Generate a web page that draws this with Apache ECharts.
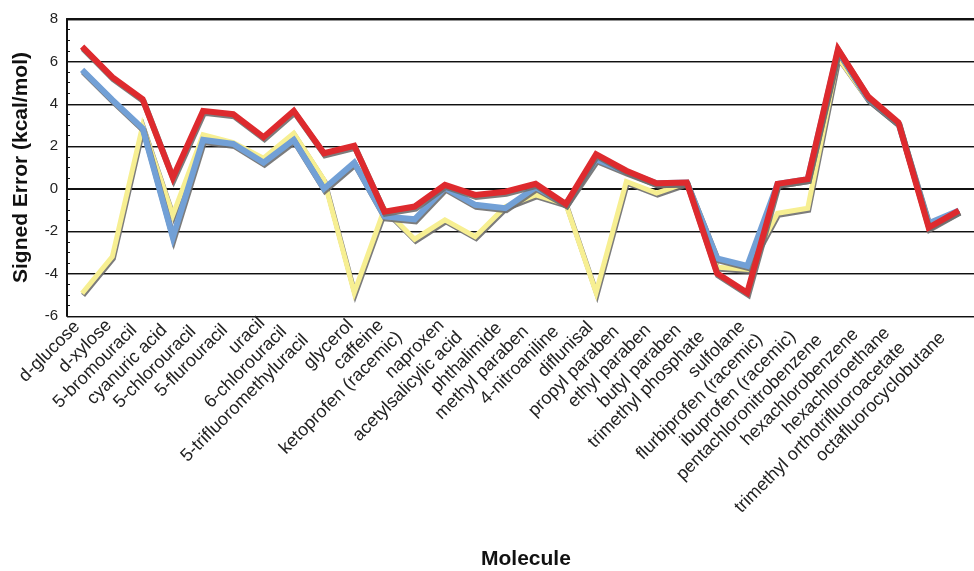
<!DOCTYPE html>
<html><head><meta charset="utf-8">
<script src="https://cdn.jsdelivr.net/npm/echarts@6/dist/echarts.min.js"></script>
<style>html,body{margin:0;padding:0;background:#fff}#c{width:974px;height:571px}</style>
</head><body><div id="c"></div>
<script>
const categories = ["d-glucose","d-xylose","5-bromouracil","cyanuric acid","5-chlorouracil","5-flurouracil","uracil","6-chlorouracil","5-trifluoromethyluracil","glycerol","caffeine","ketoprofen (racemic)","naproxen","acetylsalicylic acid","phthalimide","methyl paraben","4-nitroaniline","diflunisal","propyl paraben","ethyl paraben","butyl paraben","trimethyl phosphate","sulfolane","flurbiprofen (racemic)","ibuprofen (racemic)","pentachloronitrobenzene","hexachlorobenzene","hexachloroethane","trimethyl orthotrifluoroacetate","octafluorocyclobutane"];
const yellowValues = [-4.93,-3.2,2.96,-1.24,2.54,2.17,1.44,2.62,0.42,-4.9,-0.95,-2.38,-1.47,-2.26,-0.85,-0.29,-0.72,-4.9,0.34,-0.21,0.29,-3.7,-3.8,-1.16,-0.92,6.2,4.2,3.05,-1.8,-1.05];
const blueValues = [5.6,4.19,2.85,-2.29,2.3,2.11,1.23,2.3,0.0,1.23,-1.31,-1.44,0.05,-0.76,-0.92,0.07,-0.72,1.39,0.8,0.26,0.29,-3.28,-3.64,0.23,0.45,6.5,4.25,3.08,-1.63,-1.03];
const redValues = [6.7,5.26,4.22,0.52,3.67,3.51,2.43,3.67,1.67,2.02,-1.08,-0.84,0.18,-0.29,-0.14,0.23,-0.72,1.63,0.85,0.26,0.29,-3.99,-4.9,0.23,0.45,6.58,4.34,3.12,-1.83,-1.03];
const yTicks = {min:-6, max:8, interval:2};

const chart = echarts.init(document.getElementById('c'));
const font = 'Liberation Sans, Arial, sans-serif';
// rotated labels are shifted along their own direction, more for longer names
const rich = {};
categories.forEach((c, i) => {
  const p = Math.max(0, Math.round(1.4 * c.length - 6));
  rich['c' + i] = {padding:[0, p, 0, 0], fontSize:18, color:'#222', fontFamily:font};
});
function lineSeries(name, data, color, width){
  return {name, type:'line', data, showSymbol:false, symbol:'none', animation:false,
    lineStyle:{color, width, shadowColor:'rgba(110,110,110,0.9)', shadowBlur:0, shadowOffsetX:1, shadowOffsetY:2, join:'miter'},
    z: 3};
}
chart.setOption({
  animation:false,
  backgroundColor:'#fff',
  grid:{left:67, top:19, bottom:255, right:-9, containLabel:false},
  xAxis:[{type:'category', data:categories, boundaryGap:true,
    axisLine:{lineStyle:{color:'#111', width:2}},
    axisTick:{inside:true, length:6, lineStyle:{color:'#111', width:1}},
    axisLabel:{rotate:45, fontSize:18, color:'#222', fontFamily:font, margin:3, interval:0,
      formatter:(v, i) => '{c' + i + '|' + v + '}', rich},
    splitLine:{show:false}},
   {type:'category', data:categories, position:'top', axisLine:{lineStyle:{color:'#111', width:2}}, axisTick:{show:false}, axisLabel:{show:false}}],
  yAxis:{type:'value', min:yTicks.min, max:yTicks.max, interval:yTicks.interval,
    name:'Signed Error (kcal/mol)', nameLocation:'middle', nameGap:35,
    nameTextStyle:{fontSize:21, fontWeight:'bold', color:'#111', fontFamily:font},
    axisLine:{show:true, lineStyle:{color:'#111', width:2}},
    axisTick:{show:true, inside:true, length:6, lineStyle:{color:'#111'}},
    minorTick:{show:true, splitNumber:4, length:3, lineStyle:{color:'#111'}},
    axisLabel:{fontSize:15, color:'#222', fontFamily:font, margin:9},
    splitLine:{show:true, lineStyle:{color:'#111', width:1.2, shadowColor:'rgba(120,120,120,0.8)', shadowOffsetY:1, shadowBlur:0}}},
  graphic:[{type:'text', left:481, top:549, style:{text:'Molecule', font:'bold 21px '+font, fill:'#111'}}],
  series:[
    lineSeries('yellow', yellowValues, '#f7ef92', 5),
    lineSeries('blue', blueValues, '#72a0d6', 6),
    lineSeries('red', redValues, '#de2a2e', 6)
  ]
});
</script></body></html>
